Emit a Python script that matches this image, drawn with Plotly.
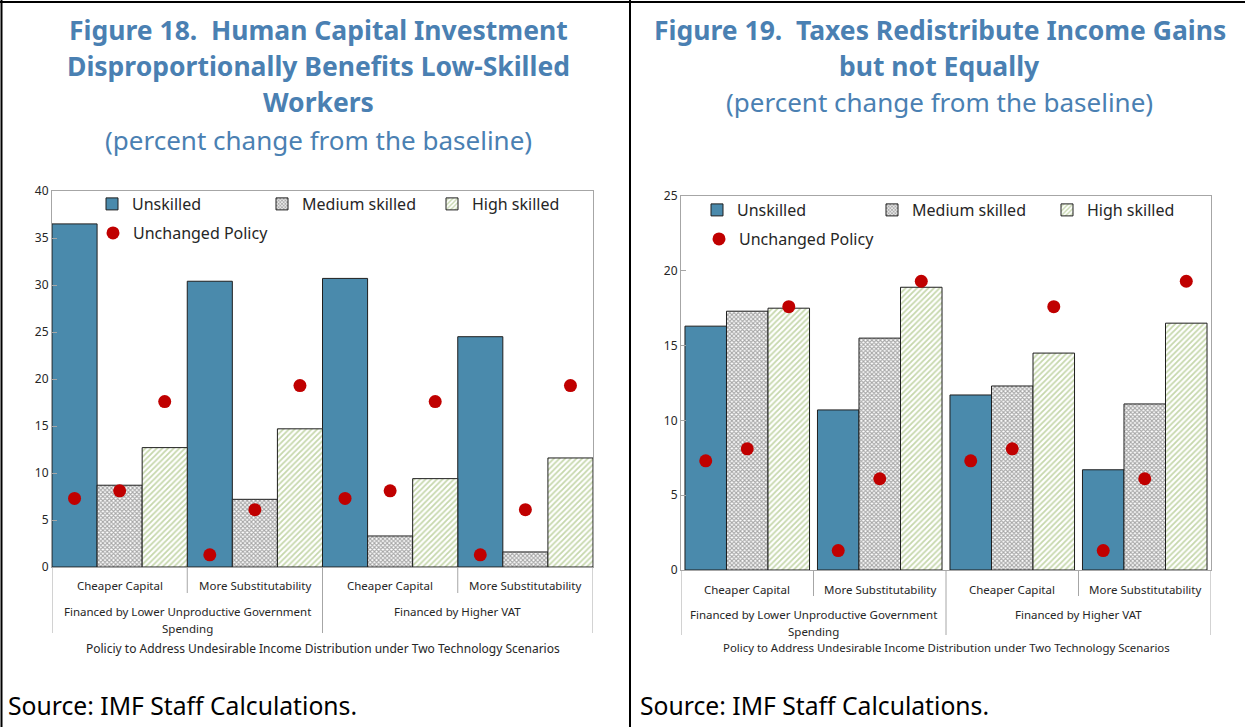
import plotly.graph_objects as go

W, H = 1245, 727

# ---------------- data ----------------
inner_labels = ["Cheaper Capital", "More Substitutability", "Cheaper Capital", "More Substitutability"]
outer_labels = ["Financed by Lower Unproductive Government<br>Spending", "Financed by Higher VAT"]
series_names = ["Unskilled", "Medium skilled", "High skilled"]
dot_name = "Unchanged Policy"

f18_unskilled = [36.5, 30.4, 30.7, 24.5]
f18_medium = [8.7, 7.2, 3.3, 1.6]
f18_high = [12.7, 14.7, 9.4, 11.6]

f19_unskilled = [16.3, 10.7, 11.7, 6.7]
f19_medium = [17.3, 15.5, 12.3, 11.1]
f19_high = [17.5, 18.9, 14.5, 16.5]

unchanged_unskilled = [7.3, 1.3, 7.3, 1.3]
unchanged_medium = [8.1, 6.1, 8.1, 6.1]
unchanged_high = [17.6, 19.3, 17.6, 19.3]

f18_title = ["Figure 18.\u00a0 Human Capital Investment", "Disproportionally Benefits Low-Skilled", "Workers"]
f19_title = ["Figure 19.\u00a0 Taxes Redistribute Income Gains", "but not Equally"]
subtitle = "(percent change from the baseline)"
f18_xtitle = "Policiy to Address Undesirable Income Distribution under Two Technology Scenarios"
f19_xtitle = "Policy to Address Undesirable Income Distribution under Two Technology Scenarios"
source = "Source: IMF Staff Calculations."

# ---------------- style ----------------
FONT = "Noto Sans"
BLUE_T = "#4a80b2"
C_UNSK = "#4a8aac"
C_GREEN = "#8db05a"
C_DOT = "#c00000"
AXC = "#a6a6a6"
TXT = "#262626"


def px_x(p):
    return p / W


def px_y(p):
    return 1 - p / H


fig = go.Figure()

charts = [
    dict(xa="x", ya="y", vals=[f18_unskilled, f18_medium, f18_high], gap=0.0,
         legend="legend", dleg="legend2"),
    dict(xa="x2", ya="y2", vals=[f19_unskilled, f19_medium, f19_high], gap=0.06,
         legend="legend3", dleg="legend4"),
]
dots = [unchanged_unskilled, unchanged_medium, unchanged_high]
xs = list(range(len(inner_labels)))

for ch in charts:
    bw = (1 - ch["gap"]) / 3
    for k, (name, vals) in enumerate(zip(series_names, ch["vals"])):
        if k == 0:
            marker = dict(color=C_UNSK, line=dict(color="#1f1f1f", width=1))
        elif k == 1:
            marker = dict(color="white", line=dict(color="#1f1f1f", width=1),
                          pattern=dict(shape="x", fgcolor="#505050", bgcolor="white",
                                       size=3, solidity=0.6))
        else:
            marker = dict(color="white", line=dict(color="#1f1f1f", width=1),
                          pattern=dict(shape="/", fgcolor=C_GREEN, bgcolor="white",
                                       size=4, solidity=0.45))
        fig.add_trace(go.Bar(
            x=xs, y=vals, name=name, width=bw, offset=-1.5 * bw + k * bw,
            marker=marker, xaxis=ch["xa"], yaxis=ch["ya"], legend=ch["legend"],
            hoverinfo="skip"))
    dx, dy = [], []
    for i in xs:
        for k in range(3):
            dx.append(i + (k - 1) * bw)
            dy.append(dots[k][i])
    fig.add_trace(go.Scatter(
        x=dx, y=dy, mode="markers", name=dot_name,
        marker=dict(color=C_DOT, size=13, line=dict(width=0)),
        xaxis=ch["xa"], yaxis=ch["ya"], legend=ch["dleg"], hoverinfo="skip"))

# ---------------- axes ----------------
geo = [
    dict(x0=52, x1=593, y0=567, y1=191, ymax=40),
    dict(x0=681, x1=1211, y0=570, y1=196, ymax=25),
]
for n, g in enumerate(geo):
    sfx = "" if n == 0 else "2"
    fig.update_layout(**{
        "xaxis" + sfx: dict(domain=[px_x(g["x0"]), px_x(g["x1"])], range=[-0.5, 3.5],
                            showticklabels=False, ticks="", showgrid=False, zeroline=False,
                            showline=True, linecolor=AXC, linewidth=1, mirror=True,
                            anchor="y" + sfx, fixedrange=True, automargin=False),
        "yaxis" + sfx: dict(domain=[px_y(g["y0"]), px_y(g["y1"])], range=[0, g["ymax"]],
                            dtick=5, tick0=0, showgrid=False, zeroline=False,
                            showline=True, linecolor=AXC, linewidth=1, mirror=True,
                            ticks="inside", ticklen=5, tickcolor=AXC,
                            tickfont=dict(family=FONT, size=12, color=TXT),
                            anchor="x" + sfx, fixedrange=True, automargin=False),
    })

# ---------------- category axis labels & dividers ----------------
cat = [
    dict(xr="x", base=567, inner_bot=593, outer_bot=633, inner_y=585,
         outer_y=[611, 628], title_y=648, xtitle=f18_xtitle, tsize=12),
    dict(xr="x2", base=570, inner_bot=596, outer_bot=635, inner_y=589,
         outer_y=[614, 631], title_y=647, xtitle=f19_xtitle, tsize=11.4),
]
annotations = []
shapes = []
for n, c in enumerate(cat):
    for xv in [-0.5, 1.5, 3.5]:
        shapes.append(dict(type="line", xref=c["xr"], yref="paper", x0=xv, x1=xv,
                           y0=px_y(c["base"]), y1=px_y(c["outer_bot"]),
                           line=dict(color=AXC, width=1)))
    for xv in [0.5, 2.5]:
        shapes.append(dict(type="line", xref=c["xr"], yref="paper", x0=xv, x1=xv,
                           y0=px_y(c["base"]), y1=px_y(c["inner_bot"]),
                           line=dict(color=AXC, width=1)))
    for i, lab in enumerate(inner_labels):
        annotations.append(dict(text=lab, xref=c["xr"], yref="paper", x=i,
                                y=px_y(c["inner_y"]), showarrow=False, xanchor="center",
                                yanchor="middle",
                                font=dict(family=FONT, size=11.5, color=TXT)))
    for j, lab in enumerate(outer_labels):
        lines = lab.split("<br>")
        for li, line in enumerate(lines):
            annotations.append(dict(text=line, xref=c["xr"], yref="paper", x=0.5 + 2 * j,
                                    y=px_y(c["outer_y"][li]), showarrow=False,
                                    xanchor="center", yanchor="middle",
                                    font=dict(family=FONT, size=11.5, color=TXT)))
    annotations.append(dict(text=c["xtitle"], xref=c["xr"], yref="paper", x=1.5,
                            y=px_y(c["title_y"]), showarrow=False, xanchor="center",
                            yanchor="middle",
                            font=dict(family=FONT, size=c["tsize"], color=TXT)))

# ---------------- titles ----------------
title_specs = [
    (318, f18_title, [30, 66, 102], 140),
    (940, f19_title, [30, 66], 102),
]
for cx, lines, ys, sy in title_specs:
    for line, yy in zip(lines, ys):
        annotations.append(dict(text="<b>" + line + "</b>", xref="paper", yref="paper",
                                x=px_x(cx), y=px_y(yy), showarrow=False, xanchor="center",
                                yanchor="middle",
                                font=dict(family=FONT, size=26.5, color=BLUE_T)))
    annotations.append(dict(text=subtitle, xref="paper", yref="paper", x=px_x(cx),
                            y=px_y(sy), showarrow=False, xanchor="center", yanchor="middle",
                            font=dict(family=FONT, size=26, color=BLUE_T)))

for sx in [6, 638]:
    annotations.append(dict(text=source, xref="paper", yref="paper", x=px_x(sx),
                            y=px_y(705), showarrow=False, xanchor="left", yanchor="middle",
                            font=dict(family=FONT, size=24.7, color="black")))

# ---------------- panel borders ----------------
for x0, y0, x1, y1 in [(0, 2, W, 2), (1.5, 0, 1.5, H), (630, 0, 630, H)]:
    shapes.append(dict(type="line", xref="paper", yref="paper",
                       x0=px_x(x0), x1=px_x(x1), y0=px_y(y0), y1=px_y(y1),
                       line=dict(color="black", width=2)))

# ---------------- legends ----------------
leg_font = dict(family=FONT, size=16, color=TXT)
common = dict(orientation="h", xanchor="left", yanchor="middle", bgcolor="rgba(0,0,0,0)",
              borderwidth=0, font=leg_font, traceorder="normal",
              entrywidthmode="pixels", itemclick=False, itemdoubleclick=False)
fig.update_layout(
    legend=dict(x=px_x(92), y=px_y(204), entrywidth=125, **common),
    legend2=dict(x=px_x(93), y=px_y(233), **common),
    legend3=dict(x=px_x(697), y=px_y(210), entrywidth=130, **common),
    legend4=dict(x=px_x(699), y=px_y(239), **common),
)

fig.update_layout(
    width=W, height=H, margin=dict(l=0, r=0, t=0, b=0, autoexpand=False),
    paper_bgcolor="white", plot_bgcolor="white",
    barmode="overlay", showlegend=True,
    annotations=annotations, shapes=shapes,
    font=dict(family=FONT),
)

fig.write_html(
    "out.html",
    config={"displayModeBar": False},
    post_script="document.body.style.margin='0';document.body.style.overflow='hidden';",
)
